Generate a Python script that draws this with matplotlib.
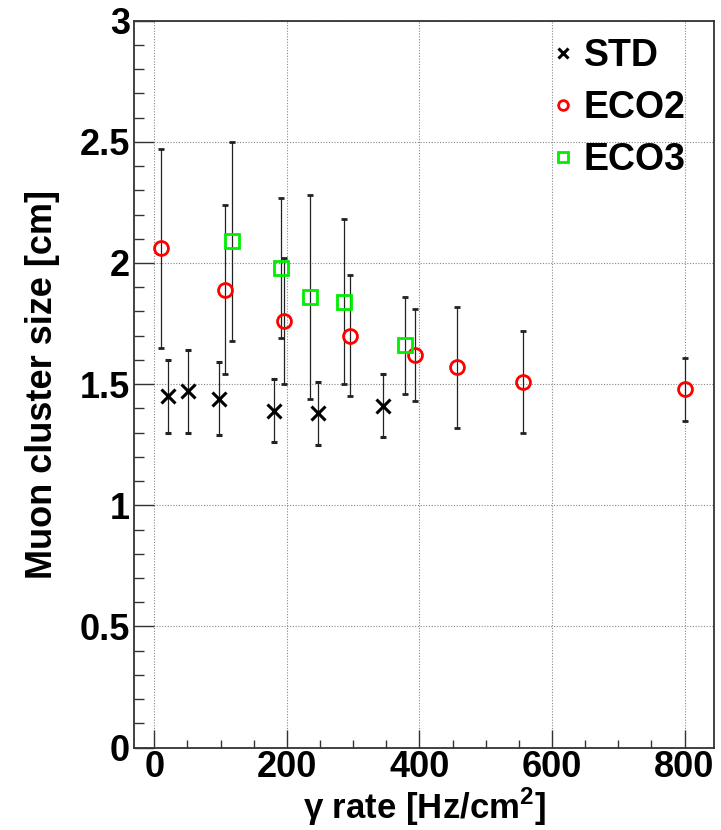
import numpy as np
import matplotlib
matplotlib.use('Agg')
import matplotlib.pyplot as plt
from matplotlib.ticker import MultipleLocator
from matplotlib.lines import Line2D

plt.rcParams['font.family'] = ['Liberation Sans', 'DejaVu Sans']
plt.rcParams['font.weight'] = 'bold'
plt.rcParams['mathtext.fontset'] = 'custom'
plt.rcParams['mathtext.rm'] = 'Liberation Sans:bold'
plt.rcParams['mathtext.bf'] = 'Liberation Sans:bold'

##### STD gas mixture
std_rate = [21, 51, 98, 180, 247, 345]
std_cs = [1.45, 1.47, 1.44, 1.39, 1.38, 1.41]
std_err = [0.15, 0.17, 0.15, 0.13, 0.13, 0.13]

##### ECO2 gas mixture
eco2_rate = [10, 107, 196, 296, 394, 456, 557, 800]
eco2_cs = [2.06, 1.89, 1.76, 1.70, 1.62, 1.57, 1.51, 1.48]
eco2_err = [0.41, 0.35, 0.26, 0.25, 0.19, 0.25, 0.21, 0.13]

##### ECO3 gas mixture
eco3_rate = [118, 191, 235, 286, 378]
eco3_cs = [2.09, 1.98, 1.86, 1.84, 1.66]
eco3_err = [0.41, 0.29, 0.42, 0.34, 0.20]

fig = plt.figure(figsize=(7.21, 8.30), dpi=100)
ax = fig.add_axes([0.1863, 0.0992, 0.8036, 0.8759])

err_kw = dict(ecolor='#222222', elinewidth=0.9, capsize=2, capthick=0.9, linestyle='none')

std_style = dict(marker='x', ms=10, mew=2.2, mec='black', mfc='none')
eco2_style = dict(marker='o', ms=10, mew=2.0, mec='red', mfc='none')
eco3_style = dict(marker='s', ms=10, mew=2.0, mec='#00ee00', mfc='none')

ax.errorbar(std_rate, std_cs, yerr=std_err, **std_style, **err_kw)
ax.errorbar(eco2_rate, eco2_cs, yerr=eco2_err, **eco2_style, **err_kw)
ax.errorbar(eco3_rate, eco3_cs, yerr=eco3_err, **eco3_style, **err_kw)

ax.set_xlim(-30, 844)
ax.set_ylim(0, 3)

ax.xaxis.set_major_locator(MultipleLocator(200))
ax.xaxis.set_minor_locator(MultipleLocator(50))
ax.yaxis.set_major_locator(MultipleLocator(0.5))
ax.yaxis.set_minor_locator(MultipleLocator(0.1))
ax.yaxis.set_major_formatter(plt.FuncFormatter(lambda v, p: '%g' % v))

ax.tick_params(axis='both', which='both', direction='in', top=False, right=False,
               labelsize=26, color='#333333', width=1.0)
ax.tick_params(axis='y', which='major', length=14.5, pad=3)
ax.tick_params(axis='y', which='minor', length=7.2)
ax.tick_params(axis='x', which='major', length=13, pad=2)
ax.tick_params(axis='x', which='minor', length=5.8)

for s in ax.spines.values():
    s.set_linewidth(1.3)
    s.set_color('#333333')

ax.grid(True, which='major', color='#888888', linestyle=(0, (1, 1.5)), linewidth=0.8)
ax.set_axisbelow(True)

ax.set_xlabel(r'γ rate [Hz/cm$^{\mathbf{2}}$]', fontsize=25, fontweight='bold', labelpad=0.5)
ax.set_ylabel('Muon cluster size [cm]', fontsize=26, fontweight='bold', labelpad=14)

# legend shows markers only, no error bars
handles = [Line2D([], [], linestyle='none', **std_style),
           Line2D([], [], linestyle='none', **eco2_style),
           Line2D([], [], linestyle='none', **eco3_style)]
ax.legend(handles, ['STD', 'ECO2', 'ECO3'], loc='upper left',
          bbox_to_anchor=(0.721, 0.976), frameon=False,
          fontsize=27, handlelength=0.6, handletextpad=0.24, labelspacing=0.43,
          markerscale=0.7, borderaxespad=0, borderpad=0)

fig.savefig('out.png', dpi=100)
